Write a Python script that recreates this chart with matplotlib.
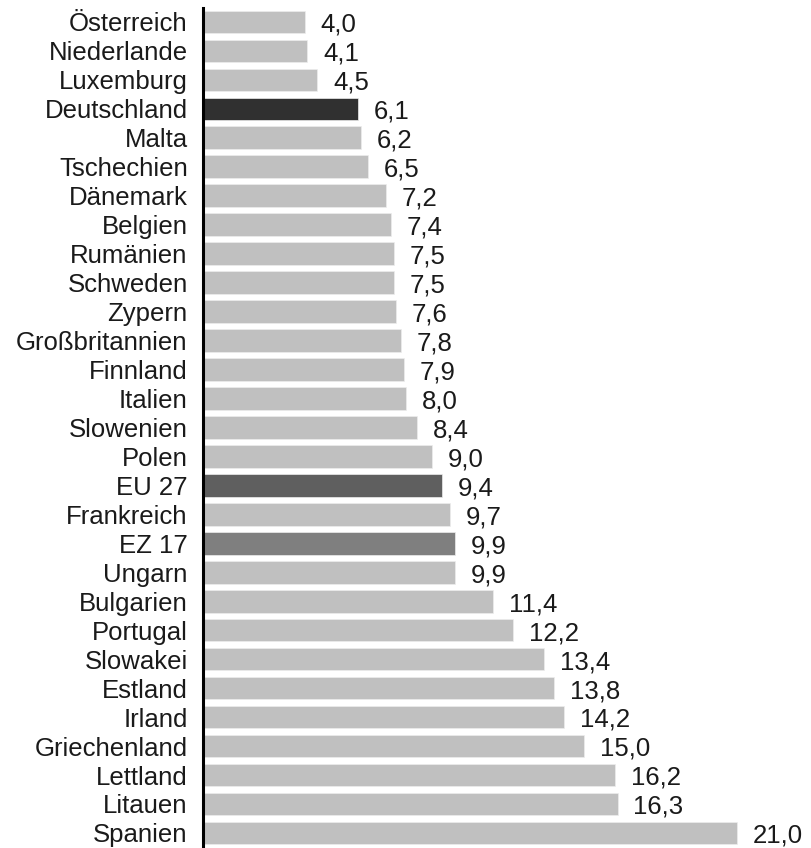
import matplotlib
matplotlib.use("Agg")
import matplotlib.pyplot as plt

plt.rcParams['font.family'] = ['Liberation Sans', 'DejaVu Sans']

# Werte von oben nach unten
laender = ['Österreich', 'Niederlande', 'Luxemburg', 'Deutschland', 'Malta',
           'Tschechien', 'Dänemark', 'Belgien', 'Rumänien', 'Schweden',
           'Zypern', 'Großbritannien', 'Finnland', 'Italien', 'Slowenien',
           'Polen', 'EU 27', 'Frankreich', 'EZ 17', 'Ungarn', 'Bulgarien',
           'Portugal', 'Slowakei', 'Estland', 'Irland', 'Griechenland',
           'Lettland', 'Litauen', 'Spanien']
werte = [4.0, 4.1, 4.5, 6.1, 6.2, 6.5, 7.2, 7.4, 7.5, 7.5, 7.6, 7.8, 7.9, 8.0,
         8.4, 9.0, 9.4, 9.7, 9.9, 9.9, 11.4, 12.2, 13.4, 13.8, 14.2, 15.0,
         16.2, 16.3, 21.0]
hervorgehoben = {'Deutschland': '#303030', 'EU 27': '#5f5f5f', 'EZ 17': '#7f7f7f'}

farben = [hervorgehoben.get(l, '#c0c0c0') for l in laender]
pos = list(range(len(laender)))

fig = plt.figure(figsize=(8.11, 8.48), dpi=100)
ax = fig.add_axes([203 / 811, 0, 608 / 811, 840 / 848])

ax.barh(pos, werte, height=0.78, color=farben, edgecolor='#ececec', linewidth=0.5)
for y, v in zip(pos, werte):
    ax.text(v + 0.62, y + 0.1, f"{v:.1f}".replace('.', ','), va='center',
            ha='left', fontsize=18.5, color='#1a1a1a')

ax.set_yticks(pos)
ax.set_yticklabels(laender, fontsize=18.5, color='#1a1a1a')
ax.tick_params(axis='y', length=0, pad=11)
ax.set_xticks([])
ax.set_xlim(0, 608 / 25.43)
ax.set_ylim(28.52, -0.48)

for s in ['top', 'right', 'bottom']:
    ax.spines[s].set_visible(False)
ax.spines['left'].set_linewidth(2.2)
ax.spines['left'].set_color('black')

fig.savefig('out.png', dpi=100)
